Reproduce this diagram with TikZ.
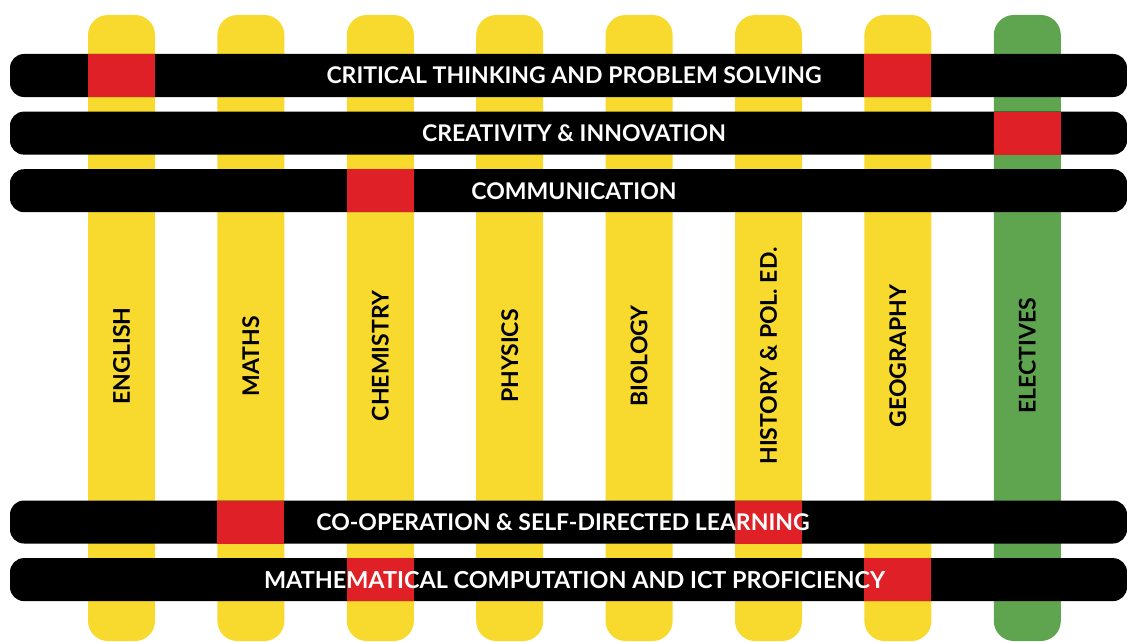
\documentclass[tikz,border=0pt]{standalone}
\usepackage{fontspec}
\setmainfont{Lato}
\usetikzlibrary{positioning}
\definecolor{barYellow}{HTML}{F7DA2D}
\definecolor{barGreen}{HTML}{5FA550}
\definecolor{hitRed}{HTML}{DF2027}

\begin{document}
\begin{tikzpicture}[x=1pt, y=-1pt, node distance=62pt,
	subject/.style={rectangle, rounded corners=20pt, fill=barYellow, minimum width=67pt, minimum height=626pt, inner sep=0pt},
	skill/.style={rectangle, rounded corners=14pt, fill=black, minimum width=1117pt, minimum height=43pt, inner sep=0pt},
	hit/.style={rectangle, fill=hitRed, minimum width=67pt, minimum height=43pt, inner sep=0pt},
	subjtext/.style={rotate=90, inner sep=0pt, text=black, font=\bfseries\fontsize{23}{23}\selectfont},
	skilltext/.style={inner sep=0pt, text=white, font=\bfseries\fontsize{23}{23}\selectfont}]
	\useasboundingbox (0,0) rectangle (1127,642);
	% subjects
	\node[subject] (english) at (121.5,328) {};
	\node[subject, right=of english] (maths) {};
	\node[subject, right=of maths] (chemistry) {};
	\node[subject, right=of chemistry] (physics) {};
	\node[subject, right=of physics] (biology) {};
	\node[subject, right=of biology] (history) {};
	\node[subject, right=of history] (geography) {};
	\node[subject, right=of geography, fill=barGreen] (electives) {};
	% skills
	\node[skill] (critical) at (568.5,75.5) {};
	\node[skill, below=14.2pt of critical] (creativity) {};
	\node[skill, below=14.2pt of creativity] (communication) {};
	\node[skill] (cooperation) at (568.5,522) {};
	\node[skill, below=14.2pt of cooperation] (computation) {};
	% crossings
	\node[hit] (english-critical) at (english |- critical) {};
	\node[hit] (geography-critical) at (geography |- critical) {};
	\node[hit] (electives-creativity) at (electives |- creativity) {};
	\node[hit] (chemistry-communication) at (chemistry |- communication) {};
	\node[hit] (maths-cooperation) at (maths |- cooperation) {};
	\node[hit] (history-cooperation) at (history |- cooperation) {};
	\node[hit] (chemistry-computation) at (chemistry |- computation) {};
	\node[hit] (geography-computation) at (geography |- computation) {};
	% labels
	\node[skilltext] (critical-text) at ([xshift=5.5pt]critical.center) {CRITICAL THINKING AND PROBLEM SOLVING};
	\node[skilltext] (creativity-text) at ([xshift=5.5pt]creativity.center) {CREATIVITY \& INNOVATION};
	\node[skilltext] (communication-text) at ([xshift=5.5pt]communication.center) {COMMUNICATION};
	\node[skilltext] (cooperation-text) at ([xshift=-5.5pt]cooperation.center) {CO-OPERATION \& SELF-DIRECTED LEARNING};
	\node[skilltext, font=\bfseries\fontsize{23.4}{23.4}\selectfont] (computation-text) at ([xshift=6pt]computation.center) {MATHEMATICAL COMPUTATION AND ICT PROFICIENCY};
	\node[subjtext] (english-text) at ([yshift=-28pt]english.center) {ENGLISH};
	\node[subjtext] (maths-text) at ([yshift=-28pt]maths.center) {MATHS};
	\node[subjtext] (chemistry-text) at ([yshift=-28pt]chemistry.center) {CHEMISTRY};
	\node[subjtext] (physics-text) at ([yshift=-28pt]physics.center) {PHYSICS};
	\node[subjtext] (biology-text) at ([yshift=-28pt]biology.center) {BIOLOGY};
	\node[subjtext] (history-text) at ([yshift=-28pt]history.center) {HISTORY \& POL. ED.};
	\node[subjtext] (geography-text) at ([yshift=-28pt]geography.center) {GEOGRAPHY};
	\node[subjtext] (electives-text) at ([yshift=-28pt]electives.center) {ELECTIVES};
\end{tikzpicture}
\end{document}
